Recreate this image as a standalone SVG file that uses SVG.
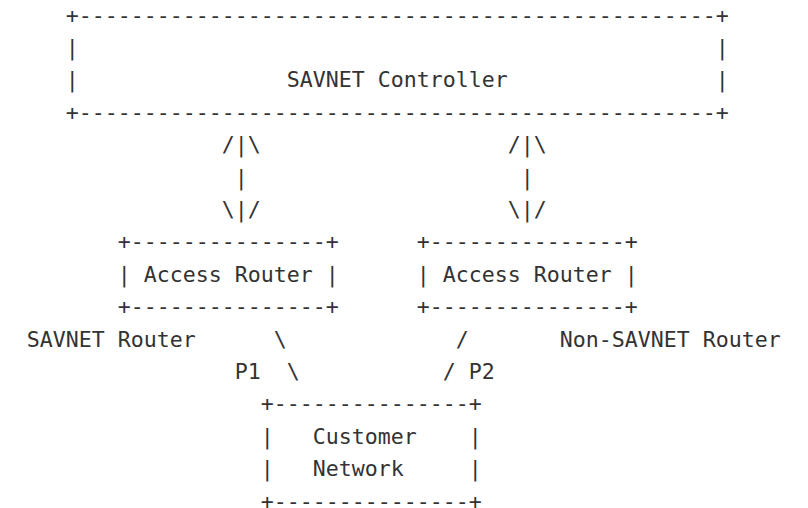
<svg xmlns="http://www.w3.org/2000/svg" width="808" height="508" viewBox="0 0 808 508">
  <style>
    text { font-family: "DejaVu Sans Mono", "Liberation Mono", monospace; font-size: 21.6px; fill: #333333; white-space: pre; }
  </style>
  <rect width="808" height="508" fill="#ffffff"/>

  <!-- controller box: columns 3..53 -->
  <g id="savnet-controller">
    <text x="65.8" y="22.6" xml:space="preserve">+-------------------------------------------------+</text>
    <text x="65.8" y="55.0">|</text>
    <text x="715.8" y="55.0">|</text>
    <text x="65.8" y="87.4">|</text>
    <text x="286.8" y="87.4">SAVNET Controller</text>
    <text x="715.8" y="87.4">|</text>
    <text x="65.8" y="119.8" xml:space="preserve">+-------------------------------------------------+</text>
  </g>

  <!-- left access router: columns 7..23 -->
  <g id="access-router-left">
    <text x="117.8" y="249.4" xml:space="preserve">+---------------+</text>
    <text x="117.8" y="281.8" xml:space="preserve">| Access Router |</text>
    <text x="117.8" y="314.2" xml:space="preserve">+---------------+</text>
  </g>

  <!-- right access router: columns 30..46 -->
  <g id="access-router-right">
    <text x="416.8" y="249.4" xml:space="preserve">+---------------+</text>
    <text x="416.8" y="281.8" xml:space="preserve">| Access Router |</text>
    <text x="416.8" y="314.2" xml:space="preserve">+---------------+</text>
  </g>

  <!-- customer network: columns 18..34 -->
  <g id="customer-network">
    <text x="260.8" y="411.4" xml:space="preserve">+---------------+</text>
    <text x="260.8" y="443.8" xml:space="preserve">|   Customer    |</text>
    <text x="260.8" y="476.2" xml:space="preserve">|   Network     |</text>
    <text x="260.8" y="508.6" xml:space="preserve">+---------------+</text>
  </g>

  <!-- links drawn as characters -->
  <g id="connectors">
    <text x="221.8" y="152.2">/|\</text>
    <text x="234.8" y="184.6">|</text>
    <text x="221.8" y="217.0">\|/</text>
    <text x="507.8" y="152.2">/|\</text>
    <text x="520.8" y="184.6">|</text>
    <text x="507.8" y="217.0">\|/</text>
    <text x="273.8" y="346.6">\</text>
    <text x="286.8" y="379.0">\</text>
    <text x="455.8" y="346.6">/</text>
    <text x="442.8" y="379.0">/</text>
  </g>

  <g id="labels">
    <text x="26.8" y="346.6">SAVNET Router</text>
    <text x="559.8" y="346.6">Non-SAVNET Router</text>
    <text x="234.8" y="379.0">P1</text>
    <text x="468.8" y="379.0">P2</text>
  </g>
</svg>
